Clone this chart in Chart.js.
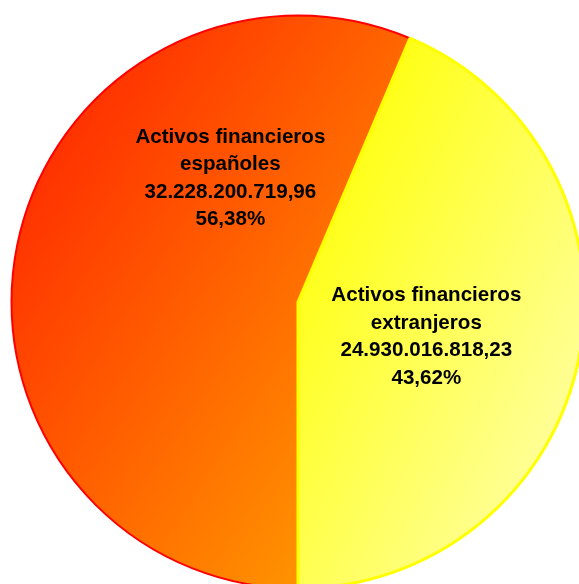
<!DOCTYPE html>
<html>
<head>
<meta charset="utf-8">
<script src="https://cdn.jsdelivr.net/npm/chart.js@4/dist/chart.umd.min.js"></script>
<style>
  html, body { margin: 0; padding: 0; background: #ffffff; overflow: hidden; width: 579px; height: 584px; }
  #wrap { position: absolute; left: 0; top: 0; width: 596px; height: 604px; }
</style>
</head>
<body>
<div id="wrap"><canvas id="c" width="596" height="604"></canvas></div>
<script>
// ---- data ----
const categories = [
  ['Activos financieros', 'españoles'],
  ['Activos financieros', 'extranjeros']
];
const values = [32228200719.96, 24930016818.23];

// ---- styles ----
// gradient: [start offset (in radii from centre), end offset, start colour, end colour]
const gradientSpecs = [
  [[-1.177, -0.753], [0.486, 0.316], '#FF1900', '#FF9600'],
  [[-0.179, -0.088], [0.897, 0.442], '#FFFF07', '#FFFF95']
];
const borderColors = ['#FF0000', '#FFFF00'];
const borderWidths = [2, 3];
// label anchor offsets relative to pie centre, in units of radius
const labelOffsets = [[-0.236, -0.431], [0.448, 0.122]];

function fmtNumber(v) {
  return v.toLocaleString('es-ES', { minimumFractionDigits: 2, maximumFractionDigits: 2, useGrouping: true });
}
function fmtPercent(p) {
  return p.toLocaleString('es-ES', { minimumFractionDigits: 2, maximumFractionDigits: 2 }) + '%';
}

function makeGradient(context) {
  const chart = context.chart;
  const area = chart.chartArea;
  const i = context.dataIndex;
  const s = gradientSpecs[i];
  if (!area) return s[2];
  const ctx = chart.ctx;
  const cx = (area.left + area.right) / 2;
  const cy = (area.top + area.bottom) / 2;
  const r = Math.min(area.width, area.height) / 2;
  const g = ctx.createLinearGradient(cx + s[0][0] * r, cy + s[0][1] * r, cx + s[1][0] * r, cy + s[1][1] * r);
  g.addColorStop(0, s[2]);
  g.addColorStop(1, s[3]);
  return g;
}

const labelPlugin = {
  id: 'sliceLabels',
  afterDatasetsDraw(chart) {
    const ctx = chart.ctx;
    const meta = chart.getDatasetMeta(0);
    const data = chart.data.datasets[0].data;
    const total = data.reduce((a, b) => a + b, 0);
    ctx.save();
    ctx.font = 'bold 20.6px "Liberation Sans", Arial, sans-serif';
    ctx.fillStyle = '#000000';
    ctx.textAlign = 'center';
    ctx.textBaseline = 'middle';
    const lh = 27.5;
    meta.data.forEach((arc, i) => {
      const R = arc.outerRadius;
      const x = arc.x + labelOffsets[i][0] * R;
      const y = arc.y + labelOffsets[i][1] * R;
      const lines = [...chart.data.labels[i], fmtNumber(data[i]), fmtPercent(data[i] / total * 100)];
      const y0 = y - (lines.length - 1) * lh / 2;
      lines.forEach((t, k) => ctx.fillText(t, x, y0 + k * lh));
    });
    ctx.restore();
  }
};

new Chart(document.getElementById('c'), {
  type: 'pie',
  data: {
    labels: categories,
    datasets: [{
      data: values,
      backgroundColor: makeGradient,
      borderColor: borderColors,
      borderWidth: borderWidths,
      borderAlign: 'center'
    }]
  },
  options: {
    responsive: false,
    animation: false,
    rotation: 180,
    layout: { padding: { left: 10, right: 10, top: 14, bottom: 14 } },
    plugins: {
      legend: { display: false },
      tooltip: { enabled: false },
      title: { display: false }
    }
  },
  plugins: [labelPlugin]
});
</script>
</body>
</html>
